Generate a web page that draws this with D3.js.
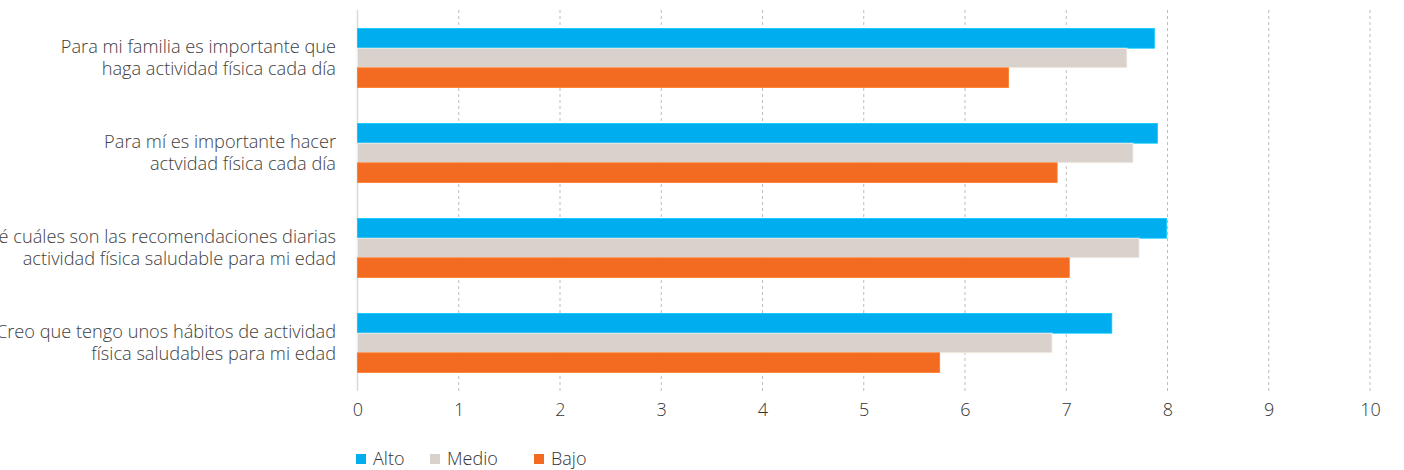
<!DOCTYPE html>
<html><head><meta charset="utf-8">
<script src="https://cdn.jsdelivr.net/npm/d3@7"></script>
<style>
html,body{margin:0;padding:0;background:#fff;}
svg{display:block;font-family:"Open Sans",sans-serif;font-weight:300;}
</style></head>
<body><svg id="c" width="1404" height="470"></svg>
<script>
const categories = [
  ["Para mi familia es importante que", "haga actividad física cada día"],
  ["Para mí es importante hacer", "actvidad física cada día"],
  ["Sé cuáles son las recomendaciones diarias", "actividad física saludable para mi edad"],
  ["Creo que tengo unos hábitos de actividad", "física saludables para mi edad"]
];
const seriesNames = ["Alto", "Medio", "Bajo"];
const alto  = [7.87, 7.90, 7.99, 7.45];
const medio = [7.60, 7.66, 7.72, 6.86];
const bajo  = [6.43, 6.91, 7.03, 5.75];
const xTicks = [0,1,2,3,4,5,6,7,8,9,10];
const colors = ["#00AEEF", "#D9D2CC", "#F26B21"];

const values = [alto, medio, bajo];
const svg = d3.select("#c");
const x = d3.scaleLinear().domain([0,10]).range([357.5, 1370]);
const y = d3.scaleBand().domain(d3.range(categories.length)).range([10, 390]);
const inner = d3.scaleBand().domain(d3.range(seriesNames.length)).range([18.5, 77.5]);

// gridlines
svg.append("g").selectAll("line").data(xTicks.filter(d=>d>0)).join("line")
  .attr("x1", d=>x(d)).attr("x2", d=>x(d)).attr("y1", 10).attr("y2", 391)
  .attr("stroke", "#bdbdbd").attr("stroke-width", 1).attr("stroke-dasharray", "3,3");
// y axis line
svg.append("line").attr("x1", x(0)).attr("x2", x(0)).attr("y1", 10).attr("y2", 391)
  .attr("stroke", "#d9d9d9").attr("stroke-width", 1.5);

// bars
const g = svg.append("g");
categories.forEach((c, i) => {
  values.forEach((vals, s) => {
    g.append("rect")
      .attr("x", x(0))
      .attr("y", y(i) + inner(s))
      .attr("width", x(vals[i]) - x(0))
      .attr("height", inner.bandwidth())
      .attr("fill", colors[s])
      .attr("stroke", d3.color(colors[s]).brighter(0.4))
      .attr("stroke-width", 0.8);
  });
});

// category labels
categories.forEach((lines, i) => {
  const cy = y(i) + y.bandwidth()/2;
  const t = svg.append("text").attr("text-anchor", "end").attr("fill", "#404040")
    .attr("font-size", 18.2);
  lines.forEach((ln, k) => {
    t.append("tspan").attr("x", 336).attr("y", cy + (k - 0.5) * 22).attr("dy", "0.35em").text(ln);
  });
});

// x axis tick labels
const xAxis = d3.axisBottom(x).tickValues(xTicks).tickSize(0).tickPadding(0);
const ax = svg.append("g").attr("transform", "translate(0,403)").call(xAxis);
ax.select(".domain").remove();
ax.selectAll("text").attr("font-size", 18).attr("fill", "#333")
  .attr("font-family", "'Open Sans',sans-serif").attr("font-weight", 300);

// legend
const legX = [356, 430, 534];
const leg = svg.append("g");
seriesNames.forEach((n, s) => {
  leg.append("rect").attr("x", legX[s]).attr("y", 454).attr("width", 10).attr("height", 10).attr("fill", colors[s]);
  leg.append("text").attr("x", legX[s] + 17).attr("y", 464.5).attr("font-size", 18).attr("fill", "#333").text(n);
});
</script></body></html>
